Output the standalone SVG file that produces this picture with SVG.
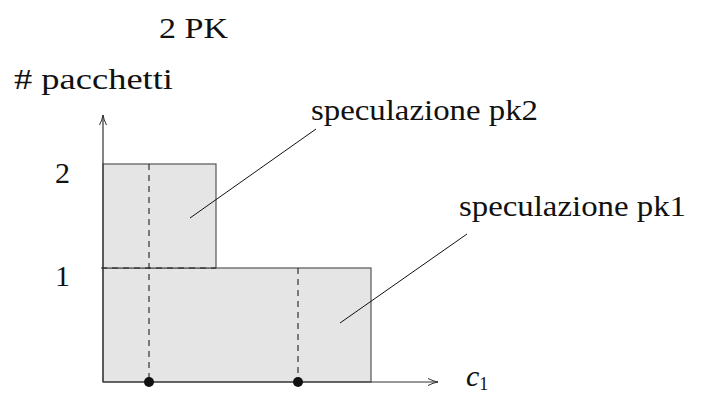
<svg xmlns="http://www.w3.org/2000/svg" width="704" height="398" viewBox="0 0 704 398">
<style>
  text { font-family: "Liberation Serif", "DejaVu Serif", serif; font-size: 30px; fill: #111; }
  .area { fill: #e5e5e5; stroke: #555; stroke-width: 1.2; }
  .dash { fill: none; stroke: #222; stroke-width: 1.1; stroke-dasharray: 6 5; }
  .ax { fill: none; stroke: #333; stroke-width: 1.2; }
  .lead { fill: none; stroke: #111; stroke-width: 1; }
</style>
<defs>
  <marker id="arr" markerWidth="12" markerHeight="10" refX="10" refY="5" orient="auto" markerUnits="userSpaceOnUse">
    <path d="M0,1.5 Q5,4.2 10,5 Q5,5.8 0,8.5" fill="none" stroke="#333" stroke-width="1"/>
  </marker>
</defs>
<rect width="704" height="398" fill="#fff"/>
<g id="title"><text x="159" y="38" textLength="69" lengthAdjust="spacingAndGlyphs">2 PK</text></g>
<g id="ylabel"><text x="14" y="89" textLength="159" lengthAdjust="spacingAndGlyphs"># pacchetti</text></g>
<g id="region-pk1"><rect class="area" x="103" y="268" width="268" height="114"/></g>
<g id="region-pk2"><rect class="area" x="103" y="164" width="113" height="104"/></g>
<g id="guides">
  <line class="dash" x1="149" y1="164" x2="149" y2="382"/>
  <line class="dash" x1="298" y1="268" x2="298" y2="382"/>
  <line class="dash" x1="101" y1="268" x2="216" y2="268"/>
</g>
<g id="connectors">
  <line class="ax" x1="103" y1="382" x2="103" y2="115" marker-end="url(#arr)"/>
  <line class="ax" x1="103" y1="382" x2="438" y2="382" marker-end="url(#arr)"/>
  <line class="lead" x1="190" y1="218" x2="316" y2="129"/>
  <line class="lead" x1="340" y1="323" x2="467" y2="234"/>
</g>
<g id="points">
  <circle cx="149" cy="382" r="5" fill="#111"/>
  <circle cx="298" cy="382" r="5" fill="#111"/>
</g>
<g id="tick2"><text x="55" y="183">2</text></g>
<g id="tick1"><text x="55" y="286">1</text></g>
<g id="label-pk2"><text x="311" y="120" textLength="227" lengthAdjust="spacingAndGlyphs">speculazione pk2</text></g>
<g id="label-pk1"><text x="459" y="216" textLength="227" lengthAdjust="spacingAndGlyphs">speculazione pk1</text></g>
<g id="xlabel"><text x="466" y="386"><tspan font-style="italic">c</tspan><tspan font-size="18" dy="4">1</tspan></text></g>
</svg>
